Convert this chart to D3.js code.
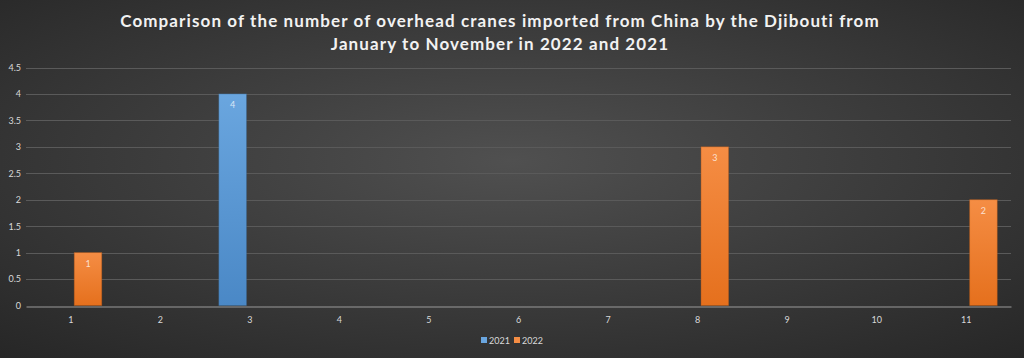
<!DOCTYPE html>
<html><head><meta charset="utf-8">
<script src="https://cdn.jsdelivr.net/npm/d3@7"></script>
<style>html,body{margin:0;padding:0;background:#333;}svg{display:block;}</style>
</head><body>
<svg id="c" width="1024" height="358"></svg>
<script>
const months = ["1","2","3","4","5","6","7","8","9","10","11"];
const series = ["2021","2022"];
const values2021 = [0,0,4,0,0,0,0,0,0,0,0];
const values2022 = [1,0,0,0,0,0,0,3,0,0,2];
const yTicks = [0,0.5,1,1.5,2,2.5,3,3.5,4,4.5];
const titleLines = ["Comparison of the number of overhead cranes imported from China by the Djibouti from","January to November in 2022 and 2021"];
const colors = {"2021":["#6aa6df","#4a88c6"],"2022":["#f58d44","#e5701d"]};

const W=1024,H=358;
const svg=d3.select("#c");
const defs=svg.append("defs");
const bg=defs.append("radialGradient").attr("id","bg").attr("cx","50%").attr("cy","45%").attr("r","75%");
bg.append("stop").attr("offset","0%").attr("stop-color","#505050");
bg.append("stop").attr("offset","100%").attr("stop-color","#262626");
series.forEach(s=>{
  const g=defs.append("linearGradient").attr("id","g"+s).attr("x1",0).attr("y1",0).attr("x2",0).attr("y2",1);
  g.append("stop").attr("offset","0%").attr("stop-color",colors[s][0]);
  g.append("stop").attr("offset","100%").attr("stop-color",colors[s][1]);
});
svg.append("rect").attr("width",W).attr("height",H).attr("fill","url(#bg)");

const m={l:26,r:13,t:67,b:53};
const x=d3.scaleBand().domain(months).range([m.l,W-m.r]).paddingInner(0).paddingOuter(0);
const x1=d3.scaleBand().domain(series).range([0,x.bandwidth()]).paddingInner(0.2).paddingOuter(0.4);
const y=d3.scaleLinear().domain([0,4.5]).range([305.5,67.5]);

// gridlines
svg.append("g").selectAll("line").data(yTicks.filter(d=>d>0)).join("line")
  .attr("x1",m.l).attr("x2",W-m.r).attr("y1",d=>Math.round(y(d))+0.5).attr("y2",d=>Math.round(y(d))+0.5)
  .attr("stroke","#5a5a5a").attr("stroke-width",1);

// y labels
const yAxis=d3.axisLeft(y).tickValues(yTicks).tickSize(0).tickPadding(0).tickFormat(d=>String(d));
const ya=svg.append("g").attr("transform",`translate(${21},0)`).call(yAxis);
ya.select(".domain").remove();
ya.selectAll("text").attr("fill","#d9d9d9").attr("font-family","Lato, 'Open Sans', sans-serif").attr("font-size",9);

// x axis
const xAxis=d3.axisBottom(x).tickSize(0).tickPadding(10);
const xa=svg.append("g").attr("transform",`translate(0,${Math.round(y(0))+0.5})`).call(xAxis);
xa.select(".domain").attr("stroke","#9a9a9a").attr("stroke-width",1);
xa.selectAll("text").attr("fill","#d9d9d9").attr("font-family","Lato, 'Open Sans', sans-serif").attr("font-size",9);

// bars
const data=[];
months.forEach((mo,i)=>{
  data.push({m:mo,s:"2021",v:values2021[i]});
  data.push({m:mo,s:"2022",v:values2022[i]});
});
const bars=data.filter(d=>d.v>0);
svg.append("g").selectAll("rect").data(bars).join("rect")
  .attr("x",d=>x(d.m)+x1(d.s)).attr("width",x1.bandwidth())
  .attr("y",d=>y(d.v)).attr("height",d=>y(0)-y(d.v))
  .attr("fill",d=>"url(#g"+d.s+")")
  .attr("stroke",d=>d.s==="2021"?"#3f6f9e":"#b85a17").attr("stroke-opacity",0.5).attr("stroke-width",0.8);
svg.append("g").selectAll("text").data(bars).join("text")
  .attr("x",d=>x(d.m)+x1(d.s)+x1.bandwidth()/2).attr("y",d=>y(d.v)+14)
  .attr("text-anchor","middle").attr("fill","#ffffff").attr("fill-opacity",0.75)
  .attr("font-family","Lato, 'Open Sans', sans-serif").attr("font-size",9).text(d=>d.v);

// title
svg.append("g").selectAll("text").data(titleLines).join("text")
  .attr("x",W/2-12).attr("y",(d,i)=>27+i*23).attr("text-anchor","middle")
  .attr("fill","#f2f2f2").attr("font-family","Lato, 'Open Sans', sans-serif").attr("font-weight","bold")
  .attr("font-size",17).attr("letter-spacing","1.1px").text(d=>d);

// legend
const lg=svg.append("g").attr("transform","translate(481,337)");
series.forEach((s,i)=>{
  const g=lg.append("g").attr("transform",`translate(${i*33},0)`);
  g.append("rect").attr("width",6).attr("height",6).attr("fill",colors[s][0]);
  g.append("text").attr("x",8).attr("y",6.5).attr("fill","#d9d9d9").attr("font-family","Lato, 'Open Sans', sans-serif").attr("font-size",9).text(s);
});
</script>
</body></html>
